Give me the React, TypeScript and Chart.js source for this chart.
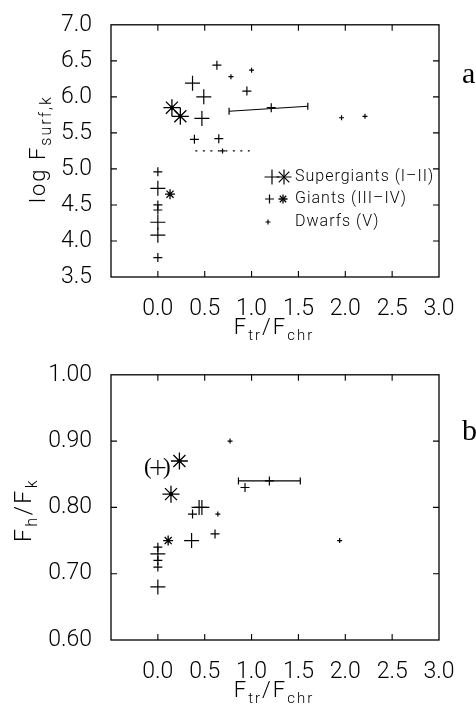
import React, { useEffect, useRef } from 'react';
import { Chart, registerables } from 'chart.js';

Chart.register(...registerables);

type P = [number, number];

// ---------- Panel a: log F_surf,k versus F_tr/F_chr ----------
const aSupergiantPlus: P[] = [[0.37, 6.19], [0.49, 6.0], [0.47, 5.7], [0.0, 4.73], [0.0, 4.26], [0.0, 4.08]];
const aSupergiantStar: P[] = [[0.15, 5.85], [0.24, 5.73]];
const aGiantPlus: P[] = [[0.63, 6.44], [0.95, 6.08], [0.39, 5.41], [0.65, 5.42], [1.21, 5.85], [0.0, 4.96], [0.0, 4.5], [0.0, 4.43], [0.0, 3.77]];
const aGiantStar: P[] = [[0.13, 4.65]];
const aDwarf: P[] = [[0.78, 6.28], [1.0, 6.37], [1.96, 5.71], [2.21, 5.73], [0.69, 5.25]];
const aRange: P[] = [[0.76, 5.8], [1.6, 5.87]];
const aDotted: P[] = [[0.4, 5.25], [0.98, 5.25]];

// ---------- Panel b: F_h/F_k versus F_tr/F_chr ----------
const bSupergiantPlus: P[] = [[0.0, 0.86], [0.0, 0.73], [0.0, 0.68], [0.36, 0.75], [0.44, 0.8], [0.47, 0.8]];
const bSupergiantStar: P[] = [[0.23, 0.87], [0.14, 0.82]];
const bGiantPlus: P[] = [[0.0, 0.74], [0.0, 0.72], [0.0, 0.71], [0.37, 0.79], [0.61, 0.76], [0.93, 0.83], [1.19, 0.84]];
const bGiantStar: P[] = [[0.11, 0.75]];
const bDwarf: P[] = [[0.77, 0.9], [0.64, 0.79], [1.94, 0.75]];
const bRange: P[] = [[0.86, 0.84], [1.52, 0.84]];
const bBracketed: P = [0.0, 0.86];

// ---------- ticks and labels ----------
const xTicks = [0, 0.5, 1, 1.5, 2, 2.5, 3];
const aYTicks = [3.5, 4, 4.5, 5, 5.5, 6, 6.5, 7];
const bYTicks = [0.6, 0.7, 0.8, 0.9, 1.0];
const legendLabels = ['Supergiants (I–II)', 'Giants (III–IV)', 'Dwarfs (V)'];

const FONT = 'Roboto, "DejaVu Sans", sans-serif';
const WEIGHT = '300';
const SERIF = '"Liberation Serif", "DejaVu Serif", serif';
const INK = '#000';

const toXY = (pts: P[]) => pts.map(([x, y]) => ({ x, y }));

function markers(pts: P[], style: string, r: number, w = 1.2) {
  return {
    type: 'scatter' as const,
    data: toXY(pts),
    pointStyle: style,
    pointRadius: r,
    pointHoverRadius: r,
    borderColor: INK,
    backgroundColor: INK,
    borderWidth: w,
    showLine: false,
  };
}

function rangeLine(pts: P[]) {
  return {
    type: 'scatter' as const,
    data: toXY(pts),
    showLine: true,
    borderColor: INK,
    backgroundColor: INK,
    borderWidth: 1.2,
    pointStyle: 'line',
    rotation: 90,
    pointRadius: 3.5,
    pointHoverRadius: 3.5,
  };
}

function dottedLine(pts: P[]) {
  return {
    type: 'scatter' as const,
    data: toXY(pts),
    showLine: true,
    borderColor: INK,
    borderWidth: 1.2,
    borderDash: [2, 5.5],
    pointRadius: 0,
    pointHoverRadius: 0,
  };
}

type Run = { t: string; sub?: boolean };

function drawRuns(ctx: CanvasRenderingContext2D, runs: Run[], cx: number, cy: number, main: number, sub: number, rotated: boolean, spacing: number) {
  ctx.save();
  ctx.fillStyle = INK;
  ctx.textBaseline = 'alphabetic';
  ctx.textAlign = 'left';
  (ctx as any).letterSpacing = `${spacing}px`;
  const widths = runs.map((r) => {
    ctx.font = `${WEIGHT} ${r.sub ? sub : main}px ${FONT}`;
    return ctx.measureText(r.t).width;
  });
  const total = widths.reduce((a, b) => a + b, 0);
  ctx.translate(cx, cy);
  if (rotated) ctx.rotate(-Math.PI / 2);
  let x = -total / 2;
  runs.forEach((r, i) => {
    ctx.font = `${WEIGHT} ${r.sub ? sub : main}px ${FONT}`;
    ctx.fillText(r.t, x, r.sub ? 6 : 0);
    x += widths[i];
  });
  ctx.restore();
}

function plus(ctx: CanvasRenderingContext2D, x: number, y: number, r: number) {
  ctx.beginPath();
  ctx.moveTo(x - r, y);
  ctx.lineTo(x + r, y);
  ctx.moveTo(x, y - r);
  ctx.lineTo(x, y + r);
  ctx.stroke();
}

function star(ctx: CanvasRenderingContext2D, x: number, y: number, r: number) {
  plus(ctx, x, y, r);
  const d = r * Math.SQRT1_2;
  ctx.beginPath();
  ctx.moveTo(x - d, y - d);
  ctx.lineTo(x + d, y + d);
  ctx.moveTo(x - d, y + d);
  ctx.lineTo(x + d, y - d);
  ctx.stroke();
}

function framePlugin(id: string, extra: (chart: any, ctx: CanvasRenderingContext2D) => void) {
  return {
    id,
    afterDraw(chart: any) {
      const ctx: CanvasRenderingContext2D = chart.ctx;
      const { left, right, top, bottom } = chart.chartArea;
      const xs = chart.scales.x;
      const ys = chart.scales.y;
      ctx.save();
      ctx.strokeStyle = INK;
      ctx.lineWidth = 1.3;
      ctx.strokeRect(left, top, right - left, bottom - top);
      ctx.lineWidth = 1.1;
      const tl = 6;
      ctx.beginPath();
      xs.ticks.forEach((t: any) => {
        const px = xs.getPixelForValue(t.value);
        if (px <= left + 1 || px >= right - 1) return;
        ctx.moveTo(px, bottom);
        ctx.lineTo(px, bottom - tl);
        ctx.moveTo(px, top);
        ctx.lineTo(px, top + tl);
      });
      ys.ticks.forEach((t: any) => {
        const py = ys.getPixelForValue(t.value);
        if (py <= top + 1 || py >= bottom - 1) return;
        ctx.moveTo(left, py);
        ctx.lineTo(left + tl, py);
        ctx.moveTo(right, py);
        ctx.lineTo(right - tl, py);
      });
      ctx.stroke();
      ctx.restore();
      extra(chart, ctx);
    },
  };
}

function makeConfig(opts: {
  datasets: any[];
  yMin: number;
  yMax: number;
  yTicks: number[];
  decimals: number;
  padTop: number;
  xHeight: number;
  plugin: any;
}) {
  const tickFont = { family: FONT, size: 23, weight: WEIGHT };
  return {
    type: 'scatter' as const,
    data: { datasets: opts.datasets },
    options: {
      responsive: false,
      animation: false,
      devicePixelRatio: 1,
      events: [],
      layout: { padding: { left: 0, right: 37, top: opts.padTop, bottom: 0 } },
      plugins: { legend: { display: false }, tooltip: { enabled: false }, title: { display: false } },
      scales: {
        x: {
          type: 'linear',
          min: -0.5,
          max: 3,
          grid: { display: false },
          border: { display: false },
          afterBuildTicks: (s: any) => {
            s.ticks = xTicks.map((v) => ({ value: v }));
          },
          afterFit: (s: any) => {
            s.height = opts.xHeight;
          },
          ticks: {
            autoSkip: false,
            maxRotation: 0,
            padding: 10,
            color: INK,
            font: tickFont,
            callback: (v: any) => Number(v).toFixed(1),
          },
        },
        y: {
          type: 'linear',
          min: opts.yMin,
          max: opts.yMax,
          grid: { display: false },
          border: { display: false },
          afterBuildTicks: (s: any) => {
            s.ticks = opts.yTicks.map((v) => ({ value: v }));
          },
          afterFit: (s: any) => {
            s.width = 111;
          },
          ticks: {
            autoSkip: false,
            padding: 11,
            color: INK,
            font: tickFont,
            callback: (v: any) => Number(v).toFixed(opts.decimals),
          },
        },
      },
    },
    plugins: [opts.plugin],
  };
}

const xTitle: Run[] = [{ t: 'F' }, { t: 'tr', sub: true }, { t: '/' }, { t: 'F' }, { t: 'chr', sub: true }];

const configA = makeConfig({
  datasets: [
    dottedLine(aDotted),
    rangeLine(aRange),
    markers(aSupergiantPlus, 'cross', 7.5),
    markers(aSupergiantStar, 'star', 8.5, 1.3),
    markers(aSupergiantStar, 'circle', 1.6, 1),
    markers(aGiantPlus, 'cross', 4.5),
    markers(aGiantStar, 'star', 5, 1.3),
    markers(aDwarf, 'cross', 2.5),
  ],
  yMin: 3.5,
  yMax: 7,
  yTicks: aYTicks,
  decimals: 1,
  padTop: 10,
  xHeight: 73,
  plugin: framePlugin('frameA', (chart, ctx) => {
    drawRuns(ctx, xTitle, 274, 334, 22, 15, false, 2);
    drawRuns(ctx, [{ t: 'log F' }, { t: 'surf,k', sub: true }], 45, 149, 22, 16, true, 2);
    ctx.save();
    ctx.fillStyle = INK;
    ctx.font = `30px ${SERIF}`;
    ctx.textAlign = 'left';
    ctx.textBaseline = 'alphabetic';
    ctx.fillText('a', 462, 83);
    // legend
    ctx.strokeStyle = INK;
    ctx.lineWidth = 1.2;
    plus(ctx, 272, 177, 7.5);
    star(ctx, 284, 177, 7.5);
    plus(ctx, 269.5, 199, 4.5);
    ctx.lineWidth = 1.3;
    star(ctx, 283, 199, 4.5);
    ctx.lineWidth = 1.2;
    plus(ctx, 268, 222, 2.5);
    ctx.font = `${WEIGHT} 16px ${FONT}`;
    (ctx as any).letterSpacing = '1px';
    ctx.textBaseline = 'middle';
    legendLabels.forEach((l, i) => ctx.fillText(l, 295, [177, 199, 222][i]));
    ctx.restore();
  }),
});

const configB = makeConfig({
  datasets: [
    rangeLine(bRange),
    markers(bSupergiantPlus, 'cross', 7.5),
    markers(bSupergiantStar, 'star', 8.5, 1.3),
    markers(bSupergiantStar, 'circle', 1.6, 1),
    markers(bGiantPlus, 'cross', 4.5),
    markers(bGiantStar, 'star', 5, 1.3),
    markers(bDwarf, 'cross', 2.5),
  ],
  yMin: 0.6,
  yMax: 1.0,
  yTicks: bYTicks,
  decimals: 2,
  padTop: 23,
  xHeight: 69,
  plugin: framePlugin('frameB', (chart, ctx) => {
    drawRuns(ctx, xTitle, 274, 347, 22, 15, false, 2);
    drawRuns(ctx, [{ t: 'F' }, { t: 'h', sub: true }, { t: '/' }, { t: 'F' }, { t: 'k', sub: true }], 31, 160, 23, 16, true, 2.5);
    ctx.save();
    ctx.fillStyle = INK;
    ctx.font = `30px ${SERIF}`;
    ctx.textAlign = 'left';
    ctx.textBaseline = 'alphabetic';
    ctx.fillText('b', 462, 90);
    const px = chart.scales.x.getPixelForValue(bBracketed[0]);
    const py = chart.scales.y.getPixelForValue(bBracketed[1]);
    ctx.font = `23px ${SERIF}`;
    ctx.textAlign = 'center';
    ctx.textBaseline = 'middle';
    ctx.fillText('(', px - 10, py);
    ctx.fillText(')', px + 9, py);
    ctx.restore();
  }),
});

function Panel({ config, top, height }: { config: any; top: number; height: number }) {
  const ref = useRef<HTMLCanvasElement>(null);
  useEffect(() => {
    const chart = new Chart(ref.current as HTMLCanvasElement, config);
    return () => chart.destroy();
  }, [config]);
  return (
    <canvas
      ref={ref}
      width={476}
      height={height}
      style={{ position: 'absolute', left: 0, top, width: 476, height }}
    />
  );
}

export default function App() {
  return (
    <div style={{ position: 'absolute', left: 0, top: 0, width: 476, height: 709, background: '#fff', overflow: 'hidden' }}>
      <Panel config={configA} top={0} height={350} />
      <Panel config={configB} top={350} height={359} />
    </div>
  );
}
